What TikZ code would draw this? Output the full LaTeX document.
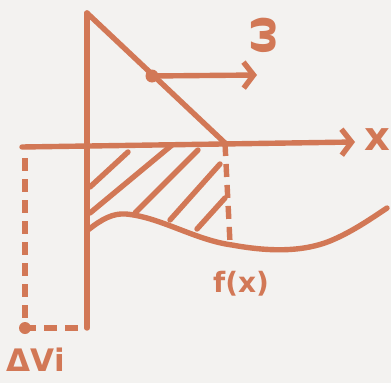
\documentclass[tikz,border=0pt]{standalone}
\usepackage{fontspec}
\setmainfont{DejaVu Sans}
\usepackage{xcolor}
\definecolor{sketch-orange}{HTML}{D27856}
\definecolor{paper-bg}{HTML}{F3F2F0}
\usetikzlibrary{arrows.meta}

\begin{document}
\begin{tikzpicture}[x=1pt, y=-1pt,
      every node/.style={text=sketch-orange, inner sep=0pt},
      pen/.style={draw=sketch-orange, line width=5.4pt, line cap=round, line join=round},
      dashpen/.style={pen, line cap=butt, dash pattern=on 13pt off 8pt},
      arrowpen/.style={pen, -{Straight Barb[length=10pt, width=26pt, line width=5.4pt]}}]
    \fill[paper-bg] (0,0) rectangle (391,383);
    % axes and triangle
    \coordinate (top) at (87,13);
    \coordinate (bot) at (87,328);
    \coordinate (xl) at (22,147);
    \coordinate (xr) at (355,142);
    \coordinate (apex) at (225,143);
    \coordinate (dot) at (152,76);
    \coordinate (wtip) at (257,75);
    \coordinate (foot) at (230,243);
    \coordinate (leftdash) at (25,158);
    \coordinate (vi) at (25,328);
    \coordinate (vidash) at (82,328);
    \draw[pen] (top) -- (bot);
    \draw[arrowpen] (xl) -- (xr);
    \draw[pen] (top) -- (apex);
    \draw[arrowpen] (dot) -- (wtip);
    \fill[sketch-orange] (dot) circle (6.5pt);
    % curve f(x)
    \draw[pen] (88,230) .. controls (102,219) and (113,213) .. (126,214)
      .. controls (160,217) and (195,240) .. (232,245)
      .. controls (265,251) and (300,253) .. (330,241)
      .. controls (352,232) and (372,218) .. (387,208);
    % hatching
    \foreach \ax/\ay/\bx/\by in {90/187/128/152, 90/213/172/145,
        135/213/198/150, 170/220/220/164, 197/229/225/198}
      \draw[pen] (\ax,\ay) -- (\bx,\by);
    \draw[dashpen] (apex) -- (foot);
    \draw[dashpen] (leftdash) -- (vi) -- (vidash);
    \fill[sketch-orange] (vi) circle (6pt);
    % labels
    \node[font=\bfseries\fontsize{40}{40}\selectfont] (xlab) at (377,140) {x};
    \node[font=\bfseries\fontsize{44}{44}\selectfont, rotate=90] (wlab) at (264,35) {ω};
    \node[font=\bfseries\fontsize{28}{28}\selectfont] (flab) at (241,284) {f(x)};
    \node[font=\bfseries\fontsize{31}{31}\selectfont] (vlab) at (36,360) {ΔVi};
  \end{tikzpicture}
\end{document}
